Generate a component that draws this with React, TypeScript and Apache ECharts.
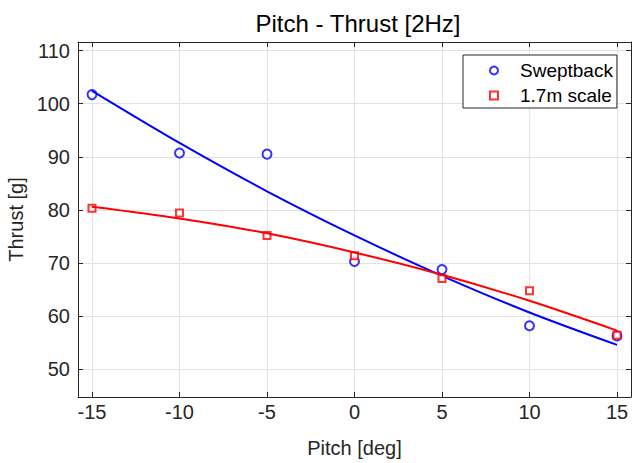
import React, { useEffect, useRef } from "react";
import * as echarts from "echarts";

const pitch = [-15, -10, -5, 0, 5, 10, 15];
const sweptback = [101.7, 90.7, 90.5, 70.3, 68.8, 58.2, 56.3];
const scale17 = [80.3, 79.4, 75.2, 71.4, 67.1, 64.8, 56.4];
const sweptbackFit = [102.4, 92.6, 83.5, 75.2, 67.6, 60.7, 54.6];
const scale17Fit = [80.6, 78.4, 75.6, 72.0, 67.8, 62.9, 57.3];
const xTicks = [-15, -10, -5, 0, 5, 10, 15];
const yTicks = [50, 60, 70, 80, 90, 100, 110];

const FONT = "'Liberation Sans', Arial, Helvetica, sans-serif";
const AX = "#262626";
const GRID = "#e2e2e2";

const pairs = (ys: number[]) => pitch.map((x, i) => [x, ys[i]]);

export default function App() {
  const ref = useRef<HTMLDivElement>(null);
  useEffect(() => {
    document.body.style.margin = "0";
    const chart = echarts.init(ref.current!, undefined, { renderer: "svg" });
    const xBase = {
      type: "value" as const,
      min: -15.8,
      max: 15.8,
      axisLine: { show: true, onZero: false, lineStyle: { color: AX, width: 1 } },
      axisTick: { show: true, inside: true, length: 5, customValues: xTicks, lineStyle: { color: AX } },
    };
    const yBase = {
      type: "value" as const,
      min: 44.8,
      max: 111.6,
      axisLine: { show: true, onZero: false, lineStyle: { color: AX, width: 1 } },
      axisTick: { show: true, inside: true, length: 5, customValues: yTicks, lineStyle: { color: AX } },
    };
    chart.setOption({
      animation: false,
      backgroundColor: "#fff",
      title: {
        text: "Pitch - Thrust [2Hz]",
        left: 353,
        top: 6,
        textAlign: "center",
        textStyle: { fontFamily: FONT, fontSize: 24, fontWeight: "normal", color: "#000" },
      },
      grid: { left: 78, right: 1, top: 42, bottom: 66, containLabel: false, outerBoundsMode: "none" },
      legend: {
        data: [
          { name: "Sweptback", icon: "emptyCircle" },
          { name: "1.7m scale", icon: "emptyRect" },
        ],
        orient: "vertical",
        left: 463,
        top: 55,
        padding: [6, 4, 3, 26],
        itemWidth: 8,
        itemHeight: 8,
        itemGap: 6,
        borderColor: AX,
        borderWidth: 1,
        borderRadius: 0,
        backgroundColor: "#fff",
        textStyle: { fontFamily: FONT, fontSize: 19, color: "#000", padding: [0, 0, 0, 17] },
      },
      xAxis: [
        {
          ...xBase,
          position: "bottom",
          name: "Pitch [deg]",
          nameLocation: "middle",
          nameGap: 41,
          nameTextStyle: { fontFamily: FONT, fontSize: 20, color: AX },
          axisLabel: {
            customValues: xTicks,
            margin: 5,
            fontFamily: FONT,
            fontSize: 20,
            color: AX,
          },
          splitLine: { show: true, lineStyle: { color: GRID, width: 1 } },
        },
        {
          ...xBase,
          position: "top",
          axisLabel: { show: false },
          splitLine: { show: false },
        },
      ],
      yAxis: [
        {
          ...yBase,
          position: "left",
          name: "Thrust [g]",
          nameLocation: "middle",
          nameGap: 50,
          nameTextStyle: { fontFamily: FONT, fontSize: 20, color: AX },
          axisLabel: {
            customValues: yTicks,
            margin: 8,
            fontFamily: FONT,
            fontSize: 20,
            color: AX,
          },
          splitLine: { show: true, lineStyle: { color: GRID, width: 1 } },
        },
        {
          ...yBase,
          position: "right",
          axisLabel: { show: false },
          splitLine: { show: false },
        },
      ],
      series: [
        {
          name: "Sweptback",
          type: "scatter",
          data: pairs(sweptback),
          symbol: "emptyCircle",
          symbolSize: 9,
          itemStyle: { color: "#0000ff", borderColor: "#0000ff", borderWidth: 1.2 },
          z: 2,
        },
        {
          name: "Sweptback fit",
          type: "line",
          data: pairs(sweptbackFit),
          smooth: 0.3,
          showSymbol: false,
          symbol: "none",
          lineStyle: { color: "#0000ff", width: 2 },
          z: 3,
        },
        {
          name: "1.7m scale",
          type: "scatter",
          data: pairs(scale17),
          symbol: "emptyRect",
          symbolSize: 7,
          itemStyle: { color: "#ff0000", borderColor: "#ff0000", borderWidth: 1.2 },
          z: 4,
        },
        {
          name: "1.7m scale fit",
          type: "line",
          data: pairs(scale17Fit),
          smooth: 0.3,
          showSymbol: false,
          symbol: "none",
          lineStyle: { color: "#ff0000", width: 2 },
          z: 5,
        },
      ],
    });
    return () => chart.dispose();
  }, []);
  return <div ref={ref} style={{ width: 632, height: 463 }} />;
}
